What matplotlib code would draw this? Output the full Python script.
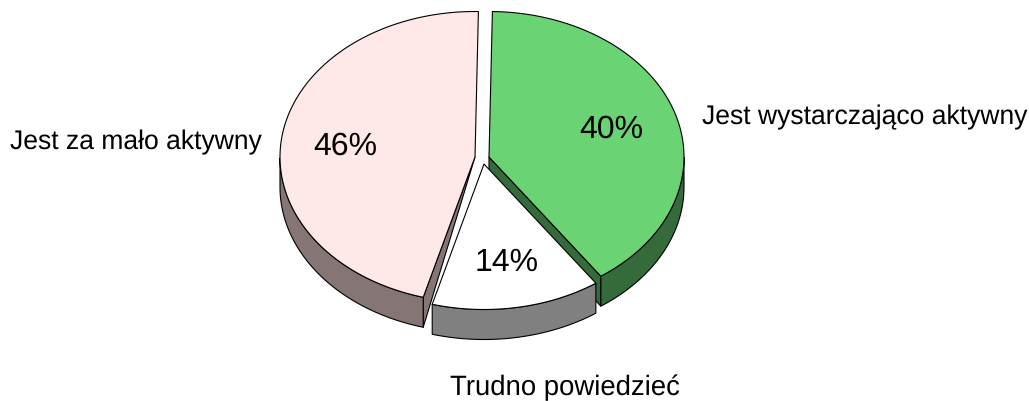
import numpy as np
import matplotlib
matplotlib.use("Agg")
import matplotlib.pyplot as plt
from matplotlib.patches import Polygon

categories = ["Jest wystarczająco aktywny", "Trudno powiedzieć", "Jest za mało aktywny"]
shares = [40, 14, 46]

top_colors = ["#6AD475", "#FFFFFF", "#FFE8E8"]
side_colors = ["#356A3A", "#808080", "#857575"]
apexes = [(489, 157), (484, 164), (475, 157)]
name_pos = [(702, 117), (450, 388), (10, 142)]
name_sizes = [19.1, 19.8, 19.1]
pct_pos = [(611.5, 129), (506.5, 263), (345, 146)]

RX, RY, DEPTH, START = 195, 145.5, 30, 89.0
EDGE = dict(edgecolor="black", linewidth=0.8, joinstyle="round")

plt.rcParams["font.family"] = ["Liberation Sans", "DejaVu Sans"]
plt.rcParams["text.hinting"] = "none"
fig = plt.figure(figsize=(10.29, 4.01), dpi=100)
ax = fig.add_axes([0, 0, 1, 1])
ax.set_xlim(0, 1029)
ax.set_ylim(401, 0)
ax.axis("off")


def rim(apex, a0, a1, n=120):
    t = np.radians(np.linspace(a0, a1, n))
    return np.column_stack([apex[0] + RX * np.cos(t), apex[1] - RY * np.sin(t)])


# clockwise sweep limits of every slice, from its share
edges = START - 3.6 * np.concatenate([[0], np.cumsum(shares)])
spans = list(zip(edges[:-1], edges[1:]))
down = np.array([0, DEPTH])

# back-to-front order: pink, green, white
for i in (2, 0, 1):
    a0, a1 = spans[i]
    apex = np.array(apexes[i], float)
    arc = rim(apex, a0, a1)

    # cut faces
    if i == 2:
        corner = arc[0]
        ax.add_patch(Polygon([apex, corner, corner + down], closed=True,
                             facecolor=side_colors[i], **EDGE))
    if i == 0:
        corner = arc[-1]
        ax.add_patch(Polygon([apex, corner, corner + down, apex + down], closed=True,
                             facecolor=side_colors[i], **EDGE))

    # outer wall: only the part of the rim on the front half
    t = np.linspace(a0, a1, 240)
    s = np.sin(np.radians(t))
    front = rim(apex, a0, a1, 240)[s < 0]
    wall = np.vstack([front, (front + down)[::-1]])
    ax.add_patch(Polygon(wall, closed=True, facecolor=side_colors[i], **EDGE))

    # top face
    ax.add_patch(Polygon(np.vstack([apex, arc]), closed=True,
                         facecolor=top_colors[i], **EDGE))

for name, pct, np_, size, pp in zip(categories, shares, name_pos, name_sizes, pct_pos):
    ax.text(np_[0], np_[1], name, fontsize=size, ha="left", va="center", color="black")
    ax.text(pp[0], pp[1], f"{pct}%", fontsize=23, ha="center", va="center", color="black")

fig.savefig("out.png", dpi=100)
